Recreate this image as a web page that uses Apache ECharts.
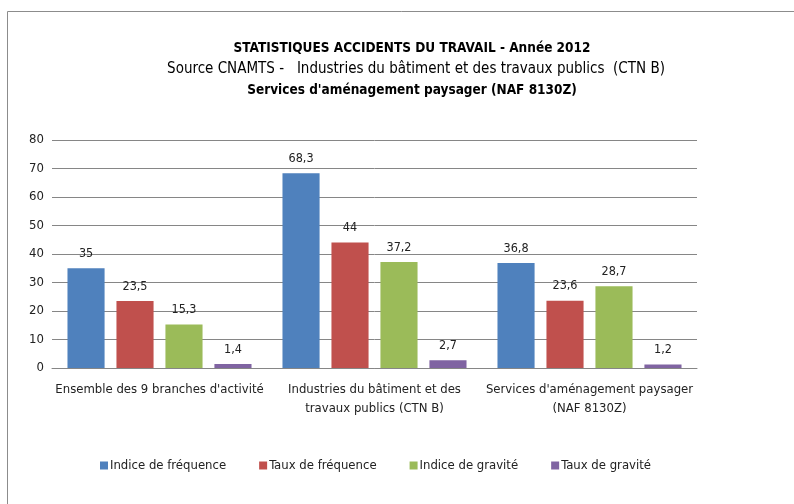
<!DOCTYPE html>
<html>
<head>
<meta charset="utf-8">
<script src="https://cdn.jsdelivr.net/npm/echarts@6/dist/echarts.min.js"></script>
<style>
	html, body { margin: 0; padding: 0; background: #fff; }
	#chart { width: 794px; height: 504px; }
</style>
</head>
<body>
<div id="chart"></div>
<script>
const categories = [
	"Ensemble des 9 branches d'activité",
	'Industries du bâtiment et des\ntravaux publics (CTN B)',
	"Services d'aménagement paysager\n(NAF 8130Z)"
];
const seriesNames = ['Indice de fréquence', 'Taux de fréquence', 'Indice de gravité', 'Taux de gravité'];
const indiceFrequence = [35, 68.3, 36.8];
const tauxFrequence = [23.5, 44, 23.6];
const indiceGravite = [15.3, 37.2, 28.7];
const tauxGravite = [1.4, 2.7, 1.2];
const colors = ['#4f81bd', '#c0504d', '#9bbb59', '#8064a2'];

const font = '"DejaVu Sans Condensed", "Liberation Sans Narrow", sans-serif';

const chart = echarts.init(document.getElementById('chart'));

const makeSeries = function (name, data) {
	return {
		name: name,
		type: 'bar',
		data: data,
		barGap: '32%',
		barCategoryGap: '14.4%',
		label: {
			show: true,
			position: 'top',
			distance: 8,
			color: '#222',
			fontSize: 12.5,
			fontFamily: font,
			formatter: p => String(p.value).replace('.', ',')
		}
	};
};

const option = {
	animation: false,
	color: colors,
	textStyle: { fontFamily: font },
	title: [
		{
			text: 'STATISTIQUES ACCIDENTS DU TRAVAIL - Année 2012',
			left: 407, top: 36, textAlign: 'center',
			textStyle: { fontSize: 13.5, fontWeight: 'bold', color: '#000', fontFamily: font }
		},
		{
			text: 'Source CNAMTS -   Industries du bâtiment et des travaux publics  (CTN B)',
			left: 411, top: 57, textAlign: 'center',
			textStyle: { fontSize: 15, fontWeight: 'normal', color: '#000', fontFamily: font }
		},
		{
			text: "Services d'aménagement paysager (NAF 8130Z)",
			left: 407, top: 78, textAlign: 'center',
			textStyle: { fontSize: 13.5, fontWeight: 'bold', color: '#000', fontFamily: font }
		}
	],
	graphic: [{
		type: 'rect',
		shape: { x: 7.5, y: 11.5, width: 800, height: 510 },
		style: { fill: 'none', stroke: '#8c8c8c', lineWidth: 1 },
		silent: true
	}],
	legend: {
		bottom: 27,
		left: 95,
		itemWidth: 8,
		itemHeight: 8,
		itemGap: 33,
		icon: 'rect',
		textStyle: { fontSize: 13, color: '#222', fontFamily: font, padding: [0, 0, 0, -3] },
		data: seriesNames
	},
	grid: { left: 52, right: 97, top: 140, bottom: 136 },
	xAxis: {
		type: 'category',
		data: categories,
		axisLine: { lineStyle: { color: '#868686' } },
		axisTick: { show: false },
		axisLabel: { interval: 0, color: '#222', fontSize: 13, fontFamily: font, margin: 12, lineHeight: 19 }
	},
	yAxis: {
		type: 'value',
		min: 0, max: 80, interval: 10,
		axisLine: { show: false },
		axisTick: { show: false },
		axisLabel: { color: '#222', fontSize: 13, fontFamily: font, margin: 8 },
		splitLine: { lineStyle: { color: '#868686' } }
	},
	series: [
		makeSeries(seriesNames[0], indiceFrequence),
		makeSeries(seriesNames[1], tauxFrequence),
		makeSeries(seriesNames[2], indiceGravite),
		makeSeries(seriesNames[3], tauxGravite)
	]
};

chart.setOption(option);
</script>
</body>
</html>
